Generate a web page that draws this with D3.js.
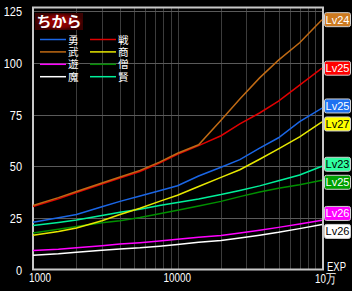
<!DOCTYPE html>
<html>
<head>
<meta charset="utf-8">
<script src="https://cdn.jsdelivr.net/npm/d3@7"></script>
<style>
  html, body { margin: 0; padding: 0; background: #000; }
  svg { display: block; }
  .tick-y { font-family: "Liberation Sans", sans-serif; font-size: 13px; fill: #fff; }
  .tick-x { font-family: "Liberation Sans", sans-serif; font-size: 12.5px; fill: #fff; }
  .leg { font-family: "Liberation Sans", "Noto Sans CJK JP", sans-serif; font-size: 10.5px; fill: #fff; }
</style>
</head>
<body>
<div id="chart"></div>
<script>
// EXP values (x axis, log)
var exp = [1000, 1500, 2000, 3000, 4000, 5500, 7500, 10000, 14000, 20000, 27000, 37000, 50000, 70000, 100000];

// ちから per job
var yuu   = [22.9, 25.1, 26.6, 30.4, 33, 35.6, 38.1, 40.6, 45.3, 49.5, 53.2, 58.8, 63.8, 71.6, 78.2];   // 勇
var bu    = [31, 34.8, 37.8, 41.9, 44.8, 48, 52, 56.3, 60.4, 72.3, 82.6, 92.8, 101.4, 109.8, 121];     // 武
var asobi = [9.2, 9.8, 10.5, 11.5, 12.3, 13, 13.8, 14.6, 15.6, 16.5, 17.7, 19, 20.4, 22, 23.8];        // 遊
var ma    = [6.9, 7.6, 8.3, 9.3, 9.9, 10.5, 11.3, 12.1, 13.2, 14, 15.3, 16.6, 18, 19.8, 21.8];          // 魔
var sen   = [30.5, 34.2, 37.3, 41.4, 44.3, 47.5, 51.5, 55.8, 60, 64.8, 70.5, 75.8, 81.6, 89.3, 97.5];  // 戦
var shou  = [16.6, 18.4, 20.1, 23.6, 26.6, 29.7, 33, 36, 40.2, 44.6, 48.3, 53.4, 58.4, 64.2, 71.5];    // 商
var sou   = [17.7, 19.5, 20.8, 22.6, 23.6, 25.2, 27, 28.7, 30.8, 33, 35.3, 37.5, 39.4, 41, 43.2];      // 僧
var ken   = [21.3, 22.8, 24, 26.2, 27.7, 29.2, 31, 32.5, 34.2, 36.3, 38.3, 40.5, 43, 45.8, 50];        // 賢

var jobs   = ["勇", "武", "遊", "魔", "戦", "商", "僧", "賢"];
var levels = ["Lv25", "Lv24", "Lv26", "Lv26", "Lv25", "Lv27", "Lv25", "Lv23"];
var yTicks = [0, 25, 50, 75, 100, 125];
var xTicks = [1000, 10000, 100000];
var xTickLabels = ["1000", "10000", "10万"];

var lineColors = ["#1a66e6", "#c06a14", "#ff00ff", "#ffffff", "#e00000", "#e8e800", "#009000", "#00f09a"];
var boxColors  = ["#1e70f0", "#cd7a20", "#ff00ff", "#ffffff", "#ff0000", "#ffff00", "#00a000", "#30ffa0"];
var boxText    = ["#fff", "#fff", "#fff", "#000", "#fff", "#000", "#fff", "#000"];

var allData = [yuu, bu, asobi, ma, sen, shou, sou, ken];

var W = 352, H = 291;
var pl = 33, pr = 322, pt = 7.5, pb = 269.5;

var svg = d3.select("#chart").append("svg")
    .attr("width", W)
    .attr("height", H);

svg.append("rect").attr("width", W).attr("height", H).attr("fill", "#000");

var x = d3.scaleLog().domain([1000, 100000]).range([pl, pr]);
var y = d3.scaleLinear().domain([0, 126.9]).range([pb, pt]);

// vertical grid
var minor = [];
[1000, 10000].forEach(function (d) {
    for (var k = 2; k <= 10; k++) minor.push(d * k);
});
svg.append("g").selectAll("line")
    .data(minor)
    .enter().append("line")
    .attr("x1", function (d) { return Math.round(x(d)) + 0.5; })
    .attr("x2", function (d) { return Math.round(x(d)) + 0.5; })
    .attr("y1", pt)
    .attr("y2", pb)
    .attr("stroke", "#3c3c3c")
    .attr("stroke-width", 1);

// horizontal grid
svg.append("g").selectAll("line")
    .data(yTicks.slice(1))
    .enter().append("line")
    .attr("x1", pl)
    .attr("x2", pr)
    .attr("y1", function (d) { return Math.round(y(d)) + 0.5; })
    .attr("y2", function (d) { return Math.round(y(d)) + 0.5; })
    .attr("stroke", "#5a5a5a")
    .attr("stroke-width", 1);

// frame
svg.append("rect")
    .attr("x", pl)
    .attr("y", pt)
    .attr("width", pr + 1 - pl)
    .attr("height", pb - pt)
    .attr("fill", "none")
    .attr("stroke", "#c8c8c8")
    .attr("stroke-width", 2);

// y tick labels (narrow digits like the original)
svg.append("g").selectAll("text")
    .data(yTicks)
    .enter().append("text")
    .attr("class", "tick-y")
    .attr("x", 22)
    .attr("y", function (d) { return y(d) + 5; })
    .attr("text-anchor", "end")
    .attr("textLength", function (d) { return String(d).length * 6.1; })
    .attr("lengthAdjust", "spacingAndGlyphs")
    .text(function (d) { return d; });

// x tick labels
svg.append("g").selectAll("text")
    .data(xTicks)
    .enter().append("text")
    .attr("class", "tick-x")
    .attr("x", function (d, i) { return i == 0 ? x(d) - 4 : (i == 1 ? x(d) - 14 : 315); })
    .attr("y", function (d, i) { return i == 2 ? 283 : 282; })
    .attr("textLength", function (d, i) { return i == 2 ? 21 : xTickLabels[i].length * 5.5; })
    .attr("lengthAdjust", "spacingAndGlyphs")
    .text(function (d, i) { return xTickLabels[i]; });

svg.append("text")
    .attr("class", "tick-x")
    .attr("x", 327)
    .attr("y", 271)
    .attr("textLength", 19)
    .attr("lengthAdjust", "spacingAndGlyphs")
    .text("EXP");

// lines
var line = d3.line()
    .x(function (d, i) { return x(exp[i]); })
    .y(function (d) { return y(d); });

// draw bottom ones first so the top ones stay on top
var order = [3, 2, 6, 7, 5, 0, 4, 1];
svg.append("g").selectAll("path")
    .data(order)
    .enter().append("path")
    .attr("d", function (k) { return line(allData[k]); })
    .attr("fill", "none")
    .attr("stroke", function (k) { return lineColors[k]; })
    .attr("stroke-width", 1.5);

// level labels on the right, pushed apart when they overlap
var labs = allData.map(function (s, k) { return { k: k, pos: y(s[s.length - 1]) }; });
labs.sort(function (a, b) { return a.pos - b.pos; });
var gap = 18;
for (var it = 0; it < 20; it++) {
    for (var i = 1; i < labs.length; i++) {
        var d = labs[i].pos - labs[i - 1].pos;
        if (d < gap) {
            var m = (gap - d) / 2;
            labs[i - 1].pos -= m;
            labs[i].pos += m;
        }
    }
}
labs.forEach(function (l) { if (l.pos < 17.5) l.pos = 17.5; });

var lg = svg.append("g").selectAll("g")
    .data(labs)
    .enter().append("g")
    .attr("transform", function (l) { return "translate(324," + l.pos + ")"; });

lg.append("rect")
    .attr("x", 0.5)
    .attr("y", -7)
    .attr("width", 26)
    .attr("height", 14)
    .attr("rx", 2)
    .attr("fill", function (l) { return boxColors[l.k]; })
    .attr("stroke", "#d0d0d0")
    .attr("stroke-width", 1);

lg.append("text")
    .attr("x", 13.5)
    .attr("y", 4)
    .attr("text-anchor", "middle")
    .style("font-family", "Liberation Sans, sans-serif")
    .style("font-size", "11px")
    .attr("fill", function (l) { return boxText[l.k]; })
    .text(function (l) { return levels[l.k]; });

// title box
var defs = svg.append("defs");
var grad = defs.append("radialGradient").attr("id", "tg");
grad.append("stop").attr("offset", "0%").attr("stop-color", "#a80000");
grad.append("stop").attr("offset", "70%").attr("stop-color", "#7a0000");
grad.append("stop").attr("offset", "100%").attr("stop-color", "#3a0000");

svg.append("rect")
    .attr("x", 35)
    .attr("y", 13)
    .attr("width", 48)
    .attr("height", 17)
    .attr("fill", "url(#tg)");

svg.append("text")
    .attr("x", 59)
    .attr("y", 27)
    .attr("text-anchor", "middle")
    .style("font-family", "Noto Sans CJK JP, sans-serif")
    .style("font-size", "15px")
    .style("font-weight", "bold")
    .attr("fill", "#fff")
    .text("ちから");

// legend
var legend = svg.append("g").selectAll("g")
    .data(jobs)
    .enter().append("g")
    .attr("transform", function (d, i) {
        var col = Math.floor(i / 4), row = i % 4;
        return "translate(" + (40 + col * 50) + "," + (39.5 + row * 12.4) + ")";
    });

legend.append("line")
    .attr("x1", 0)
    .attr("x2", 26)
    .attr("y1", 0)
    .attr("y2", 0)
    .attr("stroke", function (d, i) { return lineColors[i]; })
    .attr("stroke-width", 1.5);

legend.append("text")
    .attr("class", "leg")
    .attr("x", 28)
    .attr("y", 4)
    .text(function (d) { return d; });
</script>
</body>
</html>
